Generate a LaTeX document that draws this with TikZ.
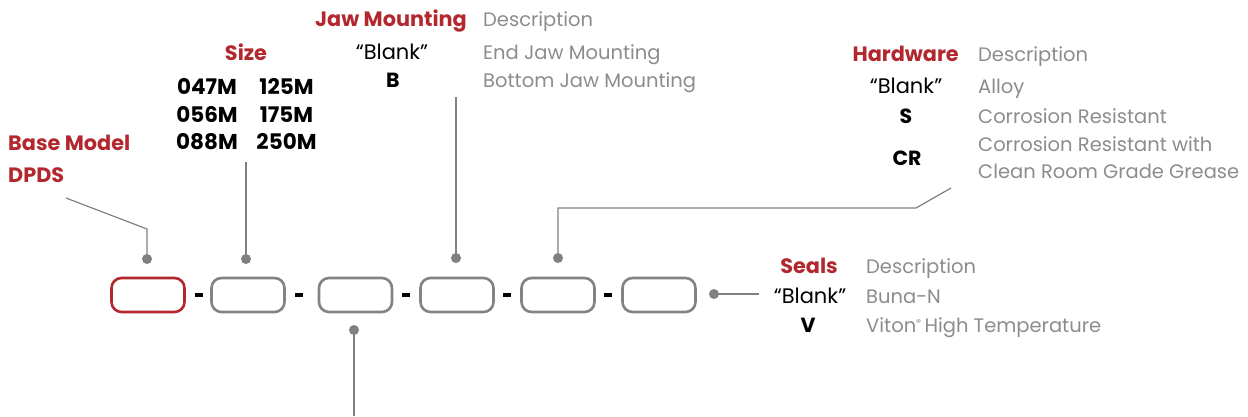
\documentclass[tikz,border=0pt]{standalone}
\usepackage{fontspec}
\setmainfont{Poppins}
\definecolor{brand}{HTML}{B3282E}
\definecolor{descgray}{HTML}{8C8C8E}
\definecolor{boxgray}{HTML}{838386}
\definecolor{linegray}{HTML}{808083}
\begin{document}
\begin{tikzpicture}[x=1pt,y=-1pt,
  slot/.style={draw=boxgray, line width=2.6pt, rounded corners=10pt, minimum width=73pt, minimum height=34pt, inner sep=0pt},
  redslot/.style={slot, draw=brand},
  sepmark/.style={fill=black, minimum width=8pt, minimum height=4pt, inner sep=0pt},
  dot/.style={circle, fill=linegray, minimum size=10pt, inner sep=0pt},
  lead/.style={draw=linegray, line width=1.2pt},
  hdr/.style={font=\fontsize{20.8}{20.8}\selectfont\bfseries, text=brand, inner sep=0pt},
  desc/.style={font=\fontsize{19.5}{19.5}\selectfont, text=descgray, inner sep=0pt, anchor=base west},
  code/.style={font=\fontsize{21}{21}\selectfont, text=black, inner sep=0pt, anchor=base},
  codeb/.style={font=\fontsize{20.5}{20.5}\selectfont\bfseries, text=black, inner sep=0pt, anchor=base},
  sizeb/.style={font=\fontsize{21.5}{21.5}\selectfont\bfseries, text=black, inner sep=0pt, anchor=base},
]
\useasboundingbox (0,0) rectangle (1248,416);

% slots
\node[redslot] (s1) at (148,295) {};
\node[slot] (s2) at (248,295) {};
\node[slot] (s3) at (355.5,295) {};
\node[slot] (s4) at (457,295) {};
\node[slot] (s5) at (558,295) {};
\node[slot] (s6) at (659,295) {};
\node[sepmark] (d1) at (199,295) {};
\node[sepmark] (d2) at (299,295) {};
\node[sepmark] (d3) at (406,295) {};
\node[sepmark] (d4) at (507,295) {};
\node[sepmark] (d5) at (608,295) {};

% dots
\node[dot] (p1) at (147,259) {};
\node[dot] (p2) at (246,259) {};
\node[dot] (p4) at (456,258) {};
\node[dot] (p5) at (558,258) {};
\node[dot] (p3) at (354,330) {};
\node[dot] (p6) at (714,294) {};

% leader ends
\coordinate (b1) at (147,229);
\coordinate (b2) at (66,198);
\coordinate (z1) at (246,162);
\coordinate (j1) at (456,97);
\coordinate (h1) at (558,208);
\coordinate (h2) at (916,208);
\coordinate (h3) at (951,188);
\coordinate (m1) at (354,416);
\coordinate (e1) at (759,294);

\draw[lead] (p1.center) -- (b1) -- (b2);
\draw[lead] (p2.center) -- (z1);
\draw[lead] (p4.center) -- (j1);
\draw[lead] (p5.center) -- (h1) -- (h2) -- (h3);
\draw[lead] (p3.center) -- (m1);
\draw[lead] (p6.center) -- (e1);

% Base model
\node[hdr, anchor=base west] (bm) at (8,150) {Base Model};
\node[hdr, anchor=base west] (bd) at (8,182) {DPDS};

% Size
\node[hdr, anchor=base] (sz) at (246,60) {Size};
\node[sizeb] (z11) at (207,94) {047M};
\node[sizeb] (z12) at (286.5,94) {125M};
\node[sizeb] (z21) at (207,122) {056M};
\node[sizeb] (z22) at (286.5,122) {175M};
\node[sizeb] (z31) at (207,149) {088M};
\node[sizeb] (z32) at (286.5,149) {250M};

% Jaw mounting
\node[hdr, anchor=base east] (jh) at (467,26) {Jaw Mounting};
\node[desc] (jd) at (483,26) {Description};
\node[code] (jc1) at (392,59) {“Blank”};
\node[codeb] (jc2) at (393,87) {B};
\node[desc] (jd1) at (483,59) {End Jaw Mounting};
\node[desc] (jd2) at (483,87) {Bottom Jaw Mounting};

% Hardware
\node[hdr, anchor=base east] (hh) at (959,61) {Hardware};
\node[desc] (hd) at (978,61) {Description};
\node[code] (hc1) at (906,93) {“Blank”};
\node[codeb] (hc2) at (906,123) {S};
\node[codeb] (hc3) at (907,165) {CR};
\node[desc] (hd1) at (978,93) {Alloy};
\node[desc] (hd2) at (978,123) {Corrosion Resistant};
\node[desc] (hd3) at (978,151) {Corrosion Resistant with};
\node[desc] (hd4) at (978,178) {Clean Room Grade Grease};

% Seals
\node[hdr, anchor=base east] (eh) at (838,273) {Seals};
\node[desc] (ed) at (866,273) {Description};
\node[code] (ec1) at (810,303) {“Blank”};
\node[codeb] (ec2) at (808,332) {V};
\node[desc] (ed1) at (866,303) {Buna-N};
\node[desc] (ed2) at (866,332) {Viton\raisebox{0.55ex}{\fontsize{10}{10}\selectfont ®}\,High Temperature};
\end{tikzpicture}
\end{document}
